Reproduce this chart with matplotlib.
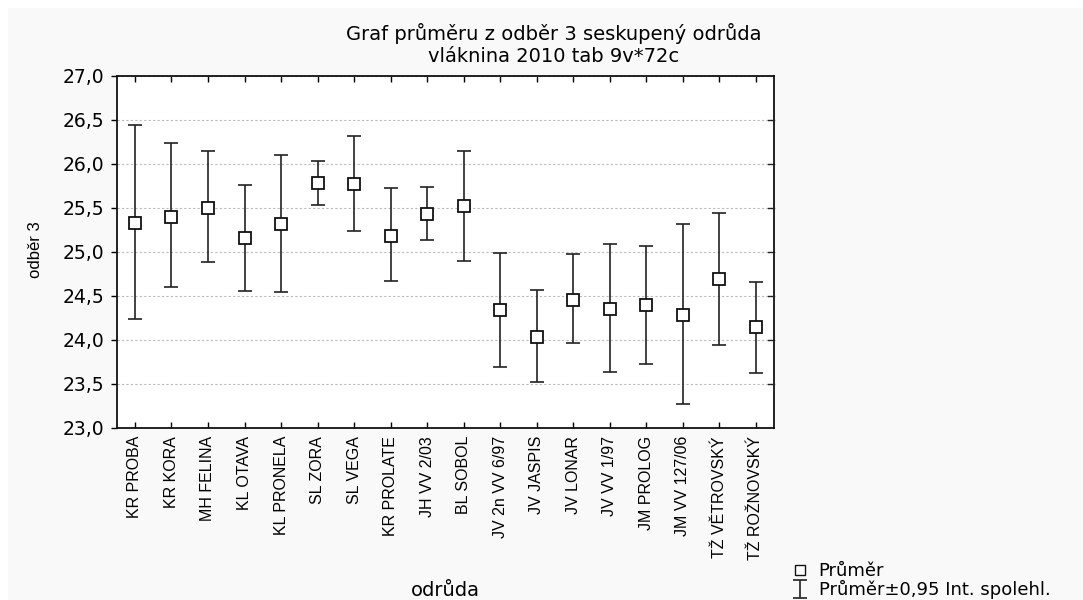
import numpy as np
import matplotlib.pyplot as plt
from matplotlib.lines import Line2D
from matplotlib.ticker import MultipleLocator, FuncFormatter

plt.rcParams['font.family'] = ['Liberation Sans', 'DejaVu Sans']
wide = ['DejaVu Sans']  # the original export has wide lettering

# odrůdy (varieties)
odruda = ['KR PROBA', 'KR KORA', 'MH FELINA', 'KL OTAVA', 'KL PRONELA', 'SL ZORA',
          'SL VEGA', 'KR PROLATE', 'JH VV 2/03', 'BL SOBOL', 'JV 2n VV 6/97',
          'JV JASPIS', 'JV LONAR', 'JV VV 1/97', 'JM PROLOG', 'JM VV 127/06',
          'TŽ VĚTROVSKÝ', 'TŽ ROŽNOVSKÝ']
# průměr and 0.95 interval bounds
prumer = [25.33, 25.40, 25.50, 25.16, 25.31, 25.78, 25.77, 25.18, 25.43,
          25.52, 24.34, 24.03, 24.45, 24.35, 24.40, 24.28, 24.69, 24.14]
horni = [26.44, 26.23, 26.15, 25.76, 26.10, 26.03, 26.31, 25.72, 25.74,
         26.14, 24.98, 24.57, 24.97, 25.09, 25.07, 25.31, 25.44, 24.66]
dolni = [24.23, 24.60, 24.88, 24.55, 24.54, 25.53, 25.24, 24.67, 25.13,
         24.89, 23.69, 23.52, 23.96, 23.63, 23.72, 23.27, 23.94, 23.62]

x = np.arange(len(odruda))
m = np.array(prumer)
err = [m - np.array(dolni), np.array(horni) - m]

W, H = 1083, 600
fig = plt.figure(figsize=(10.83, 6.0), dpi=100)
fig.patch.set_facecolor('white')
# light grey panel like the original export
bg = plt.Rectangle((8/W, 0), 1 - 8/W, 1 - 8/H, transform=fig.transFigure,
                   facecolor='#f9f9f9', edgecolor='none', zorder=-10)
fig.patches.append(bg)

ax = fig.add_axes([116.7/W, 1 - 427.7/H, (774 - 116.7)/W, (427.7 - 75.7)/H])
ax.set_facecolor('white')

eb = ax.errorbar(x, m, yerr=err, fmt='none', ecolor='#222222', elinewidth=1.2,
                 capsize=5, capthick=1.2, zorder=3)
ax.plot(x, m, 's', ms=8, mfc='white', mec='#111111', mew=1.3, zorder=4)

ax.set_xlim(-0.5, len(odruda) - 0.5)
ax.set_ylim(23.0, 27.0)
ax.yaxis.set_major_locator(MultipleLocator(0.5))
ax.yaxis.set_major_formatter(FuncFormatter(lambda v, p: f'{v:.1f}'.replace('.', ',')))
ax.set_xticks(x)
ax.set_xticklabels(odruda, rotation=90, fontsize=11.5)
ax.tick_params(axis='y', labelsize=13.5, direction='out', length=4, width=1, pad=5)
for lab in ax.get_yticklabels():
    lab.set_family(wide)
ax.tick_params(axis='x', direction='in', length=4, width=1, top=True, pad=6)
# inward ticks on the right side
for v in np.arange(23.5, 27.0, 0.5):
    ax.plot([1.0, 1 - 6/657], [v, v], transform=ax.get_yaxis_transform(), color='#222222',
            lw=1, clip_on=False, zorder=5)
ax.grid(axis='y', linestyle=(0, (2, 2)), color='#bbbbbb', linewidth=0.8)
ax.set_axisbelow(True)
for s in ax.spines.values():
    s.set_linewidth(1.3)
    s.set_color('#111111')

fig.text(36/W, 1 - 250/H, 'odběr 3', rotation=90, ha='center', va='center', fontsize=12)
fig.text(445/W, 1 - 590/H, 'odrůda', ha='center', va='center', fontsize=14, family=wide)

fig.text(554/W, 1 - 33/H, 'Graf průměru z odběr 3 seskupený odrůda',
         ha='center', va='center', fontsize=14, family=wide)
fig.text(554/W, 1 - 57/H, 'vláknina 2010 tab 9v*72c',
         ha='center', va='center', fontsize=14, family=wide)

leg_sq = Line2D([], [], marker='s', ls='none', ms=7, mfc='white', mec='#111111', mew=1)
fig.legend([leg_sq, eb], ['Průměr', 'Průměr±0,95 Int. spolehl.'],
           loc='lower left', bbox_to_anchor=(777/W, -0.02), frameon=False,
           prop={'family': wide, 'size': 13}, handlelength=1.2, handletextpad=0.4,
           labelspacing=0.0, borderpad=0.2)

fig.savefig('out.png', dpi=100, facecolor=fig.get_facecolor())
